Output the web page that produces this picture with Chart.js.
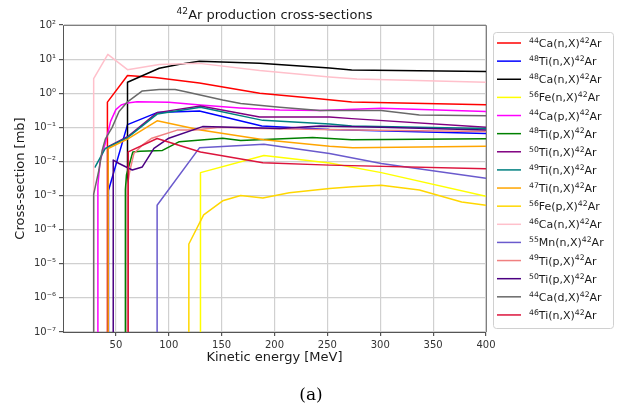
<!DOCTYPE html>
<html><head><meta charset="utf-8">
<script src="https://cdn.jsdelivr.net/npm/chart.js@4.4.0/dist/chart.umd.min.js"></script>
<style>html,body{margin:0;padding:0;background:#fff}#c{display:block}</style>
</head><body>
<canvas id="c" width="620" height="412"></canvas>
<script>
// ---- data (energies in MeV, cross-sections in mb; 1e-10 = effectively zero) ----
const ca44n_E  = [42, 42, 61, 87, 129, 186, 242, 273, 400];
const ca44n_XS = [1e-10, 0.55, 3.3, 2.9, 2.0, 1.0, 0.69, 0.55, 0.46];

const ti48n_E  = [43, 43, 61, 89, 129, 188, 252, 400];
const ti48n_XS = [1e-10, 1.4e-3, 0.12, 0.27, 0.30, 0.11, 0.087, 0.066];

const ca48n_E  = [61, 61, 91, 109, 129, 186, 252, 273, 400];
const ca48n_XS = [1e-10, 2.1, 5.4, 7.0, 8.6, 7.5, 5.5, 4.8, 4.3];

const fe56n_E  = [130, 130, 190, 252, 301, 400];
const fe56n_XS = [1e-10, 4.7e-3, 0.015, 9e-3, 4.7e-3, 9.5e-4];

const ca44p_E  = [33, 33, 35, 40, 45, 50, 55, 61, 70, 100, 130, 167, 205, 243, 301, 400];
const ca44p_XS = [1e-10, 2e-3, 0.01, 0.034, 0.15, 0.33, 0.45, 0.52, 0.56, 0.54, 0.45, 0.37, 0.32, 0.31, 0.36, 0.29];

const ti48p_E  = [59, 59, 60, 66, 73, 94, 110, 151, 168, 236, 273, 400];
const ti48p_XS = [1e-10, 1.5e-3, 4e-3, 0.019, 0.02, 0.021, 0.038, 0.048, 0.041, 0.05, 0.043, 0.046];

const ti50n_E  = [42.7, 42.7, 61, 89, 130, 186, 252, 273, 400];
const ti50n_XS = [1e-10, 0.027, 0.053, 0.27, 0.42, 0.20, 0.20, 0.18, 0.10];

const ti49n_E  = [30, 40, 61, 89, 130, 189, 252, 273, 400];
const ti49n_XS = [6.6e-3, 0.024, 0.05, 0.245, 0.39, 0.16, 0.126, 0.11, 0.093];

const ti47n_E  = [42.7, 42.7, 61, 89, 130, 190, 252, 274, 400];
const ti47n_XS = [1e-10, 0.024, 0.045, 0.155, 0.083, 0.043, 0.028, 0.025, 0.028];

const fe56p_E  = [119, 119, 133, 151, 168, 189, 214, 252, 274, 301, 337, 377, 400];
const fe56p_XS = [1e-10, 3.8e-5, 2.7e-4, 7e-4, 1.0e-3, 8.5e-4, 1.2e-3, 1.6e-3, 1.8e-3, 2.0e-3, 1.45e-3, 6.5e-4, 5.2e-4];

const ca46n_E  = [29, 29, 42.4, 61, 91, 129, 186, 252, 278, 400];
const ca46n_XS = [1e-10, 2.7, 13.8, 4.9, 7.0, 7.5, 4.6, 3.0, 2.6, 2.1];

const mn55n_E  = [89, 89, 129, 190, 252, 301, 400];
const mn55n_XS = [1e-10, 5.2e-4, 0.025, 0.032, 0.017, 8.7e-3, 3.2e-3];

const ti49p_E  = [61, 61, 63, 67, 75, 84, 108, 125, 148, 186, 276, 400];
const ti49p_XS = [1e-10, 2e-3, 5e-3, 0.017, 0.03, 0.048, 0.083, 0.083, 0.10, 0.093, 0.083, 0.075];

const ti50p_E  = [47.5, 47.5, 53, 65.5, 75, 86, 100, 132, 205, 243, 301, 400];
const ti50p_XS = [1e-10, 0.011, 8.7e-3, 5.6e-3, 6.9e-3, 0.024, 0.048, 0.105, 0.093, 0.11, 0.10, 0.083];

const ca44d_E  = [29, 29, 34, 37, 40, 46.5, 53, 61, 75, 91, 106, 116, 151, 168, 205, 243, 301, 337, 400];
const ca44d_XS = [1e-10, 1.1e-3, 5.6e-3, 0.021, 0.045, 0.10, 0.29, 0.56, 1.17, 1.29, 1.29, 1.1, 0.63, 0.5, 0.39, 0.31, 0.31, 0.23, 0.22];

const ti46n_E  = [61.7, 61.7, 89, 130, 167, 189, 252, 400];
const ti46n_XS = [1e-10, 0.019, 0.047, 0.019, 0.012, 9.2e-3, 7.8e-3, 6.1e-3];

const seriesLabels = ['^44Ca(n,X)^42Ar','^48Ti(n,X)^42Ar','^48Ca(n,X)^42Ar','^56Fe(n,X)^42Ar',
  '^44Ca(p,X)^42Ar','^48Ti(p,X)^42Ar','^50Ti(n,X)^42Ar','^49Ti(n,X)^42Ar','^47Ti(n,X)^42Ar',
  '^56Fe(p,X)^42Ar','^46Ca(n,X)^42Ar','^55Mn(n,X)^42Ar','^49Ti(p,X)^42Ar','^50Ti(p,X)^42Ar',
  '^44Ca(d,X)^42Ar','^46Ti(n,X)^42Ar'];
const seriesEnergies = [ca44n_E, ti48n_E, ca48n_E, fe56n_E, ca44p_E, ti48p_E, ti50n_E, ti49n_E, ti47n_E,
  fe56p_E, ca46n_E, mn55n_E, ti49p_E, ti50p_E, ca44d_E, ti46n_E];
const seriesValues = [ca44n_XS, ti48n_XS, ca48n_XS, fe56n_XS, ca44p_XS, ti48p_XS, ti50n_XS, ti49n_XS, ti47n_XS,
  fe56p_XS, ca46n_XS, mn55n_XS, ti49p_XS, ti50p_XS, ca44d_XS, ti46n_XS];
const seriesColors = ['#ff0000','#0000ff','#000000','#ffff00','#ff00ff','#008000','#800080','#008080',
  '#ffa500','#ffd700','#ffc0cb','#6a5acd','#f08080','#4b0082','#696969','#dc143c'];

const xTickValues = [50, 100, 150, 200, 250, 300, 350, 400];
const yTickValues = [1e-7, 1e-6, 1e-5, 1e-4, 1e-3, 1e-2, 1e-1, 1e0, 1e1, 1e2];
const yTickLabels = ['10⁻⁷','10⁻⁶','10⁻⁵','10⁻⁴','10⁻³','10⁻²','10⁻¹','10⁰','10¹','10²'];

const titleText = '^42Ar production cross-sections';
const xTitle = 'Kinetic energy [MeV]';
const yTitle = 'Cross-section [mb]';
const panelTag = '(a)';

// ---- helpers ----
const FONT = "'DejaVu Sans', sans-serif";
function toUnicodeSup(s){
  const m = {'0':'⁰','1':'¹','2':'²','3':'³','4':'⁴','5':'⁵','6':'⁶','7':'⁷','8':'⁸','9':'⁹'};
  return s.replace(/\^(\d+)/g, (_, d) => d.split('').map(c => m[c]).join(''));
}
function richParts(s){
  const parts = [];
  s.split(/(\^\d+)/).forEach(p => { if (!p) return; if (p[0] === '^') parts.push({t:p.slice(1), sup:true}); else parts.push({t:p, sup:false}); });
  return parts;
}
function drawRich(ctx, s, x, y, size, align){
  const parts = richParts(s);
  const supSize = size * 0.7;
  let w = 0;
  parts.forEach(p => { ctx.font = (p.sup ? supSize : size) + 'px ' + FONT; p.w = ctx.measureText(p.t).width; w += p.w; });
  let cx = align === 'center' ? x - w / 2 : x;
  ctx.textBaseline = 'alphabetic';
  ctx.textAlign = 'left';
  parts.forEach(p => {
    ctx.font = (p.sup ? supSize : size) + 'px ' + FONT;
    ctx.fillText(p.t, cx, p.sup ? y - size * 0.38 : y);
    cx += p.w;
  });
}

const datasets = seriesLabels.map((lab, i) => ({
  label: toUnicodeSup(lab),
  data: seriesEnergies[i].map((e, j) => ({x: e, y: seriesValues[i][j]})),
  borderColor: seriesColors[i],
  backgroundColor: seriesColors[i],
  borderWidth: 1.5,
  pointRadius: 0,
  tension: 0,
  fill: false,
  order: seriesLabels.length - i
}));

const decor = {
  id: 'decor',
  afterDatasetsDraw(chart){
    const {ctx, chartArea: a} = chart;
    ctx.save();
    ctx.strokeStyle = '#7f7f7f';
    ctx.lineWidth = 1;
    ctx.beginPath();
    ctx.moveTo(a.left, a.top + 0.5); ctx.lineTo(a.right + 0.5, a.top + 0.5); ctx.lineTo(a.right + 0.5, a.bottom);
    ctx.stroke();
    ctx.restore();
  },
  afterDraw(chart){
    const {ctx, chartArea: a} = chart;
    ctx.save();
    ctx.fillStyle = '#1a1a1a';
    drawRich(ctx, titleText, (a.left + a.right) / 2, 19, 13, 'center');
    ctx.font = '13px ' + FONT;
    ctx.textAlign = 'center';
    ctx.textBaseline = 'alphabetic';
    ctx.fillText(xTitle, (a.left + a.right) / 2, 361);
    ctx.save();
    ctx.translate(24, (a.top + a.bottom) / 2);
    ctx.rotate(-Math.PI / 2);
    ctx.fillText(yTitle, 0, 0);
    ctx.restore();
    ctx.font = "17px 'DejaVu Serif', serif";
    ctx.fillStyle = '#000';
    ctx.fillText(panelTag, 311, 400);
    // legend
    const lx = 493, ly = 32, lw = 120, lh = 296;
    ctx.fillStyle = 'rgba(255,255,255,0.85)';
    ctx.strokeStyle = '#d0d0d0';
    ctx.lineWidth = 1;
    ctx.beginPath();
    ctx.roundRect(lx + 0.5, ly + 0.5, lw, lh, 3);
    ctx.fill(); ctx.stroke();
    seriesLabels.forEach((lab, i) => {
      const y = 43 + i * 18.13;
      ctx.strokeStyle = seriesColors[i];
      ctx.lineWidth = 1.5;
      ctx.beginPath(); ctx.moveTo(497, y); ctx.lineTo(521, y); ctx.stroke();
      ctx.fillStyle = '#1a1a1a';
      drawRich(ctx, lab, 529, y + 4, 11, 'left');
    });
    ctx.restore();
  }
};

Chart.defaults.font.family = FONT;
new Chart(document.getElementById('c'), {
  type: 'line',
  data: { datasets },
  options: {
    responsive: false,
    animation: false,
    devicePixelRatio: 1,
    parsing: true,
    layout: { padding: { left: 0, top: 25, right: 134, bottom: 0 } },
    plugins: { legend: { display: false }, title: { display: false }, tooltip: { enabled: false } },
    elements: { line: { borderCapStyle: 'butt', borderJoinStyle: 'round' } },
    scales: {
      x: {
        type: 'linear', min: 0, max: 400,
        afterBuildTicks: s => { s.ticks = xTickValues.map(v => ({value: v})); },
        afterFit: s => { s.height = 80; },
        ticks: { font: { size: 10 }, color: '#333', padding: 3, maxRotation: 0, autoSkip: false },
        grid: { color: '#d0d0d0', lineWidth: 1.2, tickColor: '#555', tickLength: 4 },
        border: { color: '#555', width: 1 }
      },
      y: {
        type: 'logarithmic', min: 1e-7, max: 1e2,
        afterBuildTicks: s => { s.ticks = yTickValues.map(v => ({value: v})); },
        afterFit: s => { s.width = 63; },
        ticks: { font: { size: 10 }, color: '#333', padding: 3, autoSkip: false,
          callback: v => { const k = yTickValues.indexOf(v); return k >= 0 ? yTickLabels[k] : ''; } },
        grid: { color: '#d0d0d0', lineWidth: 1.2, tickColor: '#555', tickLength: 4 },
        border: { color: '#555', width: 1 }
      }
    }
  },
  plugins: [decor]
});
</script>
</body></html>
